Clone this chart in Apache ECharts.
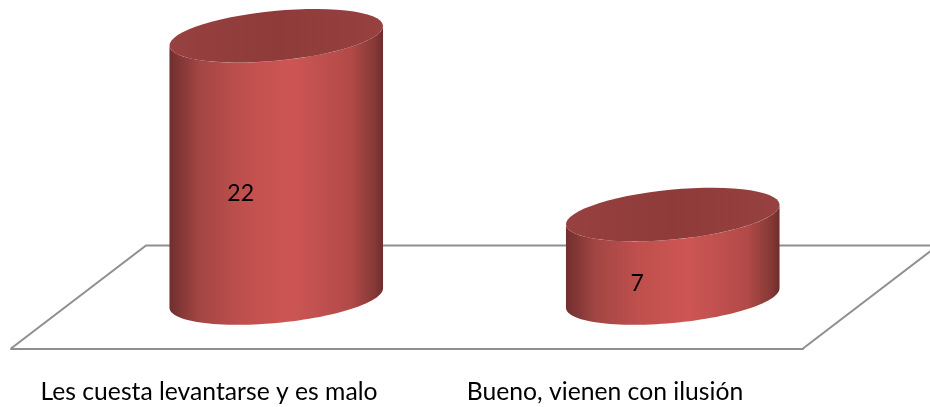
<!DOCTYPE html>
<html>
<head>
<meta charset="utf-8">
<style>
  html, body { margin: 0; padding: 0; background: #fff; }
  #chart { width: 930px; height: 407px; }
</style>
<script src="https://cdn.jsdelivr.net/npm/echarts@6/dist/echarts.min.js"></script>
</head>
<body>
<div id="chart"></div>
<script>
const categories = ['Les cuesta levantarse y es malo', 'Bueno, vienen con ilusión'];
const values = [22, 7];

const lineColor = '#8f8f8f';
const fontName = 'Lato';
const tilt = 5.5 * Math.PI / 180;

// puntos de la elipse inclinada entre dos angulos
function arc(cx, cy, a, b, from, to) {
  const pts = [];
  for (let i = 0; i <= 60; i++) {
    const t = from + (to - from) * i / 60;
    pts.push([
      cx + a * Math.cos(t) * Math.cos(tilt) + b * Math.sin(t) * Math.sin(tilt),
      cy - a * Math.cos(t) * Math.sin(tilt) + b * Math.sin(t) * Math.cos(tilt)
    ]);
  }
  return pts;
}

function renderCylinder(params, api) {
  const top = api.coord([api.value(0), api.value(1)]);
  const base = api.coord([api.value(0), 0]);
  const mid = api.coord([api.value(0), api.value(1) / 2]);
  const a = api.size([1, 0])[0] * 0.2705;
  const b = a * 0.232;
  const t0 = Math.atan2(b * Math.sin(tilt), a * Math.cos(tilt));
  const lowerBase = arc(base[0], base[1], a, b, t0, t0 + Math.PI);
  const lowerTop = arc(top[0], top[1], a, b, t0 + Math.PI, t0);
  return {
    type: 'group',
    children: [
      {
        type: 'polygon',
        shape: { points: lowerBase.concat(lowerTop) },
        style: {
          fill: new echarts.graphic.LinearGradient(0, 0, 1, 0, [
            { offset: 0, color: '#702f2e' },
            { offset: 0.14, color: '#a34644' },
            { offset: 0.35, color: '#c0504d' },
            { offset: 0.57, color: '#cd5654' },
            { offset: 0.85, color: '#b24a48' },
            { offset: 0.96, color: '#863936' },
            { offset: 1, color: '#6c2e2d' }
          ])
        }
      },
      {
        type: 'polygon',
        shape: { points: arc(top[0], top[1], a, b, 0, Math.PI * 2) },
        style: {
          fill: new echarts.graphic.LinearGradient(0, 0, 1, 0, [
            { offset: 0, color: '#974140' },
            { offset: 0.5, color: '#8e3b39' },
            { offset: 1, color: '#974140' }
          ])
        }
      },
      {
        type: 'text',
        x: mid[0] - a * 0.332,
        y: mid[1] + a * 0.252,
        style: {
          text: String(api.value(1)),
          fill: '#000',
          font: '23px ' + fontName,
          align: 'center',
          verticalAlign: 'middle'
        }
      }
    ]
  };
}

// suelo: el borde frontal es el eje x de la segunda rejilla
function renderFloor(params, api) {
  const box = params.coordSys;
  const depth = 135;
  return {
    type: 'polyline',
    shape: {
      points: [
        [box.x, box.y + box.height],
        [box.x + depth, box.y],
        [box.x + box.width + depth, box.y],
        [box.x + box.width, box.y + box.height]
      ]
    },
    style: { stroke: lineColor, lineWidth: 2, fill: 'none' }
  };
}

const myChart = echarts.init(document.getElementById('chart'));

myChart.setOption({
  animation: false,
  backgroundColor: '#fff',
  grid: [
    { left: 78, top: 0, width: 793, height: 298 },
    { left: 11, top: 245.5, width: 792, height: 103 }
  ],
  xAxis: [
    {
      type: 'category',
      gridIndex: 0,
      data: categories,
      axisLine: { show: false },
      axisTick: { show: false },
      axisLabel: { show: false }
    },
    {
      type: 'category',
      gridIndex: 1,
      data: categories,
      axisLine: { show: true, lineStyle: { color: lineColor, width: 2 } },
      axisTick: { show: false },
      axisLabel: {
        show: true,
        interval: 0,
        margin: 31,
        fontSize: 24.7,
        fontFamily: fontName,
        color: '#000'
      }
    }
  ],
  yAxis: [
    { type: 'value', gridIndex: 0, min: 0, max: 25, show: false },
    { type: 'value', gridIndex: 1, min: 0, max: 1, show: false }
  ],
  series: [
    {
      type: 'custom',
      xAxisIndex: 1,
      yAxisIndex: 1,
      renderItem: renderFloor,
      data: [[0, 0]],
      z: 1,
      silent: true
    },
    {
      type: 'custom',
      xAxisIndex: 0,
      yAxisIndex: 0,
      renderItem: renderCylinder,
      encode: { x: 0, y: 1 },
      data: values.map((v, i) => [i, v]),
      z: 5,
      silent: true
    }
  ]
});
</script>
</body>
</html>
